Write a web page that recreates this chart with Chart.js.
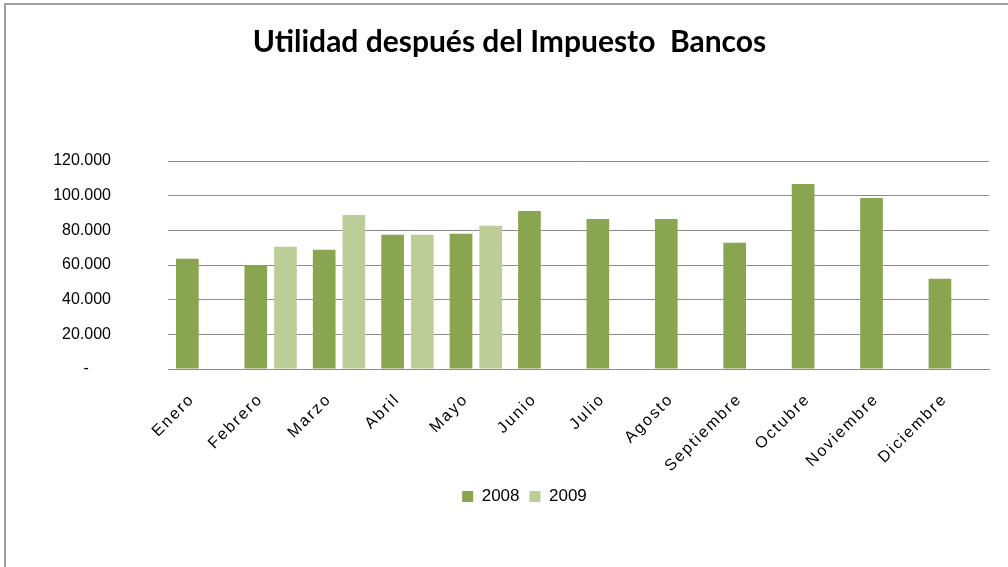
<!DOCTYPE html>
<html>
<head>
<meta charset="utf-8">
<script src="https://cdn.jsdelivr.net/npm/chart.js@4.4.1/dist/chart.umd.min.js"></script>
<style>
  html, body { margin: 0; padding: 0; background: #fff; }
  #wrap { position: relative; width: 1008px; height: 567px; }
</style>
</head>
<body>
<div id="wrap"><canvas id="chart"></canvas></div>
<script>
const months = ['Enero', 'Febrero', 'Marzo', 'Abril', 'Mayo', 'Junio', 'Julio',
  'Agosto', 'Septiembre', 'Octubre', 'Noviembre', 'Diciembre'];
const values2008 = [63600, 59700, 68800, 77400, 78000, 91200, 86600, 86600, 72800, 106800, 98700, 52000];
const values2009 = [null, 70500, 88900, 77400, 82600, null, null, null, null, null, null, null];
const yTicks = [0, 20000, 40000, 60000, 80000, 100000, 120000];

// miles con punto, cero como guion (formato contabilidad)
const fmt = (v) => v === 0 ? '-\u00a0\u00a0\u00a0\u00a0\u00a0' : String(v).replace(/\B(?=(\d{3})+(?!\d))/g, '.');

const frame = {
  id: 'frame',
  afterLayout(chart) {
    // el titulo y la leyenda del original no quedan centrados sobre el area
    chart.titleBlock.left += 15;
    chart.titleBlock.right += 15;
    chart.legend.left += 30;
    chart.legend.right += 30;
    // etiquetas del eje x con letras espaciadas
    const sx = chart.scales.x;
    if (!sx._spaced) {
      const orig = sx.drawLabels.bind(sx);
      sx.drawLabels = (area) => {
        const ctx = sx.ctx;
        const prev = ctx.letterSpacing;
        ctx.letterSpacing = '2px';
        orig(area);
        ctx.letterSpacing = prev;
      };
      sx._spaced = true;
    }
  },
  beforeDraw(chart) {
    const ctx = chart.ctx;
    ctx.save();
    ctx.fillStyle = '#fff';
    ctx.fillRect(0, 0, chart.width, chart.height);
    ctx.strokeStyle = '#a0a0a0';
    ctx.lineWidth = 2;
    ctx.beginPath();
    ctx.moveTo(5, chart.height);
    ctx.lineTo(5, 4);
    ctx.lineTo(chart.width, 4);
    ctx.stroke();
    ctx.restore();
  }
};

new Chart(document.getElementById('chart'), {
  type: 'bar',
  data: {
    labels: months,
    datasets: [
      { label: '2008', data: values2008, backgroundColor: '#8aa550' },
      { label: '2009', data: values2009, backgroundColor: '#bccd98' }
    ]
  },
  options: {
    responsive: true,
    maintainAspectRatio: false,
    animation: false,
    categoryPercentage: 0.868,
    barPercentage: 0.764,
    layout: { padding: { left: 0, right: 19, top: 0, bottom: 52 } },
    plugins: {
      title: {
        display: true,
        text: 'Utilidad después del Impuesto  Bancos',
        color: '#000',
        font: { family: 'Lato', size: 30, weight: 'bold' },
        padding: { top: 24, bottom: 101 }
      },
      legend: {
        position: 'bottom',
        labels: {
          color: '#000',
          font: { family: 'Liberation Sans', size: 17 },
          boxWidth: 11,
          boxHeight: 11,
          padding: 10
        }
      },
      tooltip: { enabled: false }
    },
    scales: {
      x: {
        grid: { display: false, drawTicks: false },
        border: { color: '#8c8c8c' },
        ticks: {
          color: '#000',
          font: { family: 'Liberation Sans', size: 16 },
          minRotation: 45,
          maxRotation: 45,
          autoSkip: false,
          padding: 21,
          labelOffset: -10
        },
        afterFit: (s) => { s.height = 109; }
      },
      y: {
        min: 0,
        max: 120000,
        afterBuildTicks: (s) => { s.ticks = yTicks.map(v => ({ value: v })); },
        grid: { color: '#8c8c8c', drawTicks: false },
        border: { display: false },
        ticks: {
          color: '#000',
          font: { family: 'Liberation Sans', size: 16 },
          padding: 57,
          callback: fmt
        },
        afterFit: (s) => { s.width = 168; }
      }
    }
  },
  plugins: [frame]
});
</script>
</body>
</html>
